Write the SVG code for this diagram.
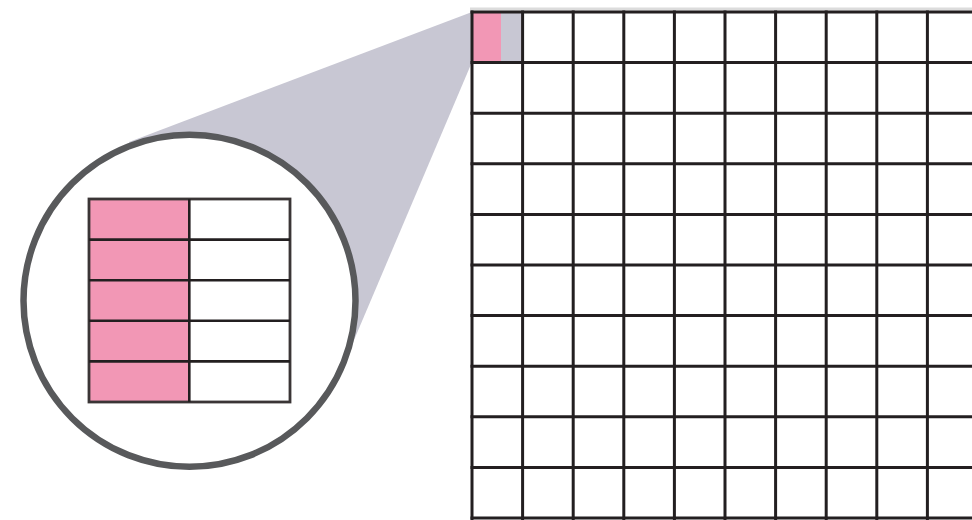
<svg xmlns="http://www.w3.org/2000/svg" width="972" height="520" viewBox="0 0 972 520">
  <defs>
    <style>
      .grid line { stroke: #231f20; stroke-width: 3; }
      .inset line { stroke: #231f20; stroke-width: 2.6; }
      .pink { fill: #f297b5; }
      .cone { fill: #c8c7d3; }
    </style>
  </defs>
  <rect width="972" height="520" fill="#ffffff"/>

  <g id="cone">
    <polygon class="cone" points="472,12 129,142 189,300 343,366 472,62"/>
  </g>

  <g id="magnifier">
    <circle cx="189.5" cy="300.8" r="166" fill="#ffffff" stroke="#58595b" stroke-width="6.5"/>
    <g class="inset">
      <rect class="pink" x="89" y="199" width="100.3" height="203"/>
      <rect x="89" y="199" width="201" height="203" fill="none" stroke="#3a3536" stroke-width="2.8"/>
      <line x1="189.3" y1="199" x2="189.3" y2="402"/>
      <line x1="89" y1="239.6" x2="290" y2="239.6"/>
      <line x1="89" y1="280.2" x2="290" y2="280.2"/>
      <line x1="89" y1="320.8" x2="290" y2="320.8"/>
      <line x1="89" y1="361.4" x2="290" y2="361.4"/>
    </g>
  </g>

  <g id="grid">
    <line x1="470" y1="9" x2="972" y2="9" stroke="#dcdcdc" stroke-width="3"/>
    <rect class="cone" x="472" y="12" width="50.6" height="50.6"/>
    <rect class="pink" x="472" y="12" width="29" height="50.6"/>
    <g class="grid">
      <line x1="472" y1="10.5" x2="472" y2="520"/>
      <line x1="522.6" y1="10.5" x2="522.6" y2="520"/>
      <line x1="573.2" y1="10.5" x2="573.2" y2="520"/>
      <line x1="623.8" y1="10.5" x2="623.8" y2="520"/>
      <line x1="674.4" y1="10.5" x2="674.4" y2="520"/>
      <line x1="725" y1="10.5" x2="725" y2="520"/>
      <line x1="775.6" y1="10.5" x2="775.6" y2="520"/>
      <line x1="826.2" y1="10.5" x2="826.2" y2="520"/>
      <line x1="876.8" y1="10.5" x2="876.8" y2="520"/>
      <line x1="927.4" y1="10.5" x2="927.4" y2="520"/>
      <line x1="470.5" y1="12" x2="972" y2="12"/>
      <line x1="470.5" y1="62.6" x2="972" y2="62.6"/>
      <line x1="470.5" y1="113.2" x2="972" y2="113.2"/>
      <line x1="470.5" y1="163.8" x2="972" y2="163.8"/>
      <line x1="470.5" y1="214.4" x2="972" y2="214.4"/>
      <line x1="470.5" y1="265" x2="972" y2="265"/>
      <line x1="470.5" y1="315.6" x2="972" y2="315.6"/>
      <line x1="470.5" y1="366.2" x2="972" y2="366.2"/>
      <line x1="470.5" y1="416.8" x2="972" y2="416.8"/>
      <line x1="470.5" y1="467.4" x2="972" y2="467.4"/>
      <line x1="470.5" y1="518" x2="972" y2="518"/>
    </g>
  </g>
</svg>
